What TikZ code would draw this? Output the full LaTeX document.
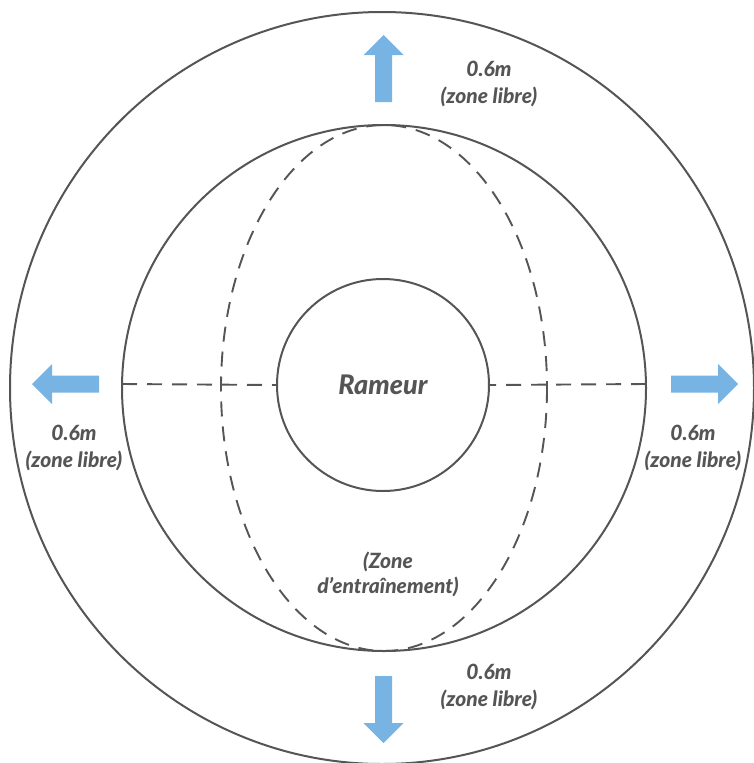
\documentclass[tikz,border=0pt]{standalone}
\usepackage{fontspec}
\setmainfont{Lato}[BoldItalicFont={Lato Black Italic}]
\definecolor{ink}{HTML}{555555}
\definecolor{flow}{HTML}{78B4E3}
\begin{document}
\begin{tikzpicture}[x=1pt,y=-1pt,
  ring/.style={draw=ink, line width=2pt},
  guide/.style={draw=ink, line width=1.9pt, dash pattern=on 15pt off 10pt},
  lbl/.style={text=ink, font=\fontsize{21}{27}\selectfont\bfseries\itshape, align=center, inner sep=0pt},
  pics/blockarrow/.style={code={
    \fill[flow] (0,-8.5) -- (47,-8.5) -- (47,-20) -- (67,0) -- (47,20) -- (47,8.5) -- (0,8.5) -- cycle;}}]
\useasboundingbox (0,0) rectangle (754,763);

% outer free zone, training zone and its dashed guide
\draw[ring] (382,388) ellipse [x radius=372, y radius=376];
\draw[ring] (384,388) ellipse [x radius=262, y radius=263];
\draw[guide] (384,388) ellipse [x radius=163, y radius=263];

% rower
\node[ring, circle, minimum size=212pt, inner sep=0pt, fill=white, text=ink,
  font=\fontsize{27}{30}\selectfont\bfseries\itshape] (rameur) at (383,385) {Rameur};

% horizontal guides
\coordinate (zw) at (122,384);
\coordinate (ze) at (646,384);
\draw[guide] (zw) -- (rameur.west);
\draw[guide] (ze) -- (rameur.east);

% outward arrows
\pic at (671,384) {blockarrow};
\pic[rotate=180] at (99,384) {blockarrow};
\pic[rotate=90] at (383.5,102) {blockarrow};
\pic[rotate=-90] at (383.5,676) {blockarrow};

% labels
\node[lbl] (ltop) at (489,83.5) {0.6m\\(zone libre)};
\node[lbl] (lleft) at (74,447.5) {0.6m\\(zone libre)};
\node[lbl] (lright) at (693,447.5) {0.6m\\(zone libre)};
\node[lbl] (lbottom) at (489,686.5) {0.6m\\(zone libre)};
\node[lbl, font=\fontsize{21}{25}\selectfont\bfseries\itshape] (lzone) at (388,574.5) {(Zone\\d’entraînement)};
\end{tikzpicture}
\end{document}
